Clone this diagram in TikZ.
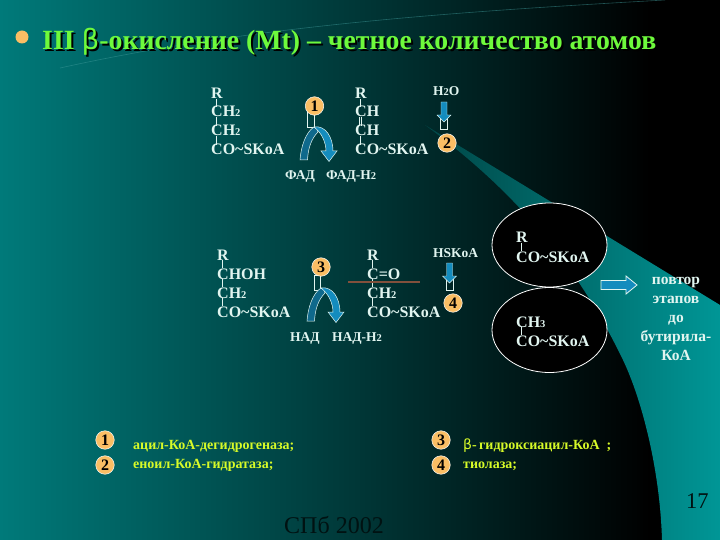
\documentclass[tikz,border=0pt]{standalone}
\usepackage{fontspec}
\setmainfont{Liberation Serif}
\usetikzlibrary{arrows.meta}
\definecolor{tealbg}{RGB}{0,122,122}
\definecolor{wedgeL}{RGB}{0,70,70}
\definecolor{wedgeR}{RGB}{0,150,150}
\definecolor{arrowblue}{RGB}{20,140,190}
\definecolor{arrowdark}{RGB}{15,105,140}
\definecolor{numfill}{RGB}{250,190,100}
\definecolor{titlegreen}{RGB}{110,250,60}
\definecolor{keyyellow}{RGB}{215,250,40}
\definecolor{chemwhite}{RGB}{225,245,240}
\definecolor{cutbrown}{RGB}{130,80,60}
\tikzset{
  x=1pt,y=-1pt,
  chem/.style={font=\bfseries\fontsize{16}{18}\selectfont,text=chemwhite,anchor=base west,inner sep=0pt},
  lab/.style={font=\bfseries\fontsize{13.5}{15}\selectfont,text=chemwhite,anchor=base west,inner sep=0pt},
  keytext/.style={font=\bfseries\fontsize{14}{16}\selectfont,text=keyyellow,anchor=base west,inner sep=0pt},
  numdot/.style={circle,fill=numfill,draw=white,line width=0.5pt,minimum size=18.5pt,inner sep=0pt,font=\bfseries\fontsize{16}{16}\selectfont,text=black},
  bond/.style={draw=chemwhite,line width=0.6pt},
  blackell/.style={draw=white,fill=black,line width=0.8pt},
  hollow/.style={draw=chemwhite,line width=0.8pt},
  titletext/.style={font=\bfseries\fontsize{27.8}{30}\selectfont,anchor=base west,inner sep=0pt},
}
\newcommand{\subs}[1]{{\fontsize{10.5}{10}\selectfont #1}}
\newcommand{\betachar}{{\fontspec{DejaVu Sans}\mdseries β}}
\newcommand{\curvedpair}[2]{%
\begin{scope}[shift={(#1,#2)}]
\fill[arrowdark,draw=chemwhite,line width=0.5pt] (0,0) -- (7.5,0) .. controls (8,-11) and (11,-21) .. (18,-28) .. controls (18,-31) and (16,-33) .. (14,-33) .. controls (6,-28) and (1,-14) .. (0,0) -- cycle;
\fill[arrowblue,draw=chemwhite,line width=0.5pt] (14,-33) .. controls (26,-35) and (33,-22) .. (33,-9) -- (37,-9) -- (29,1.500) -- (21,-9) -- (26,-9) .. controls (26,-17) and (22,-27) .. (14,-33) -- cycle;
\end{scope}}
\newcommand{\smalldown}[2]{%
\begin{scope}[shift={(#1,#2)}]
\draw[hollow] (-3.5,13) rectangle (3.5,27);
\fill[arrowblue,draw=chemwhite,line width=0.4pt] (-3,0) -- (3,0) -- (3,13) -- (7,13) -- (0,20) -- (-7,13) -- (-3,13) -- cycle;
\end{scope}}
\begin{document}
\begin{tikzpicture}
\useasboundingbox (0,0) rectangle (720,540);
% background
\fill[black] (0,0) rectangle (720,540);
\shade[left color=tealbg,right color=black] (0,0) rectangle (650,540);
% wedge
\shade[left color=wedgeL,right color=wedgeR] (425,125) -- (720,305) -- (720,540) -- (662,540) .. controls (660,470) and (642,400) .. (623,360) .. controls (570,250) and (500,180) .. (425,125) -- cycle;
% top arc
\draw[tealbg!75!white,line width=0.6pt,opacity=.5] (60,68) .. controls (250,26) and (450,12) .. (665,0);
% title
\fill[numfill] (22,37) circle (6.5);
\node[titletext,text=black] at (44,52) {III \betachar-окисление (Mt) – четное количество атомов};
\node[titletext,text=titlegreen] (title) at (42,50) {III \betachar-окисление (Mt) – четное количество атомов};
% group 1
\node[chem] (a1) at (211,99) {R};
\node[chem] (a2) at (211,117) {CH\subs{2}};
\node[chem] (a3) at (211,136) {CH\subs{2}};
\node[chem] (a4) at (211,155) {CO\textasciitilde SKoA};
\draw[bond] (216,99) -- (216,107) (216,117) -- (216,126) (216,136) -- (216,145);
\node[chem] (b1) at (355,99) {R};
\node[chem] (b2) at (355,117) {CH};
\node[chem] (b3) at (355,136) {CH};
\node[chem] (b4) at (355,155) {CO\textasciitilde SKoA};
\draw[bond] (360,99) -- (360,107) (359,117) -- (359,126) (361,117) -- (361,126) (360,136) -- (360,145);
% group 2
\node[chem] (c1) at (217,260) {R};
\node[chem] (c2) at (217,279) {CHOH};
\node[chem] (c3) at (217,298) {CH\subs{2}};
\node[chem] (c4) at (217,317) {CO\textasciitilde SKoA};
\draw[bond] (222,260) -- (222,268) (222,279) -- (222,287) (222,298) -- (222,306);
\node[chem] (d1) at (367,260) {R};
\node[chem] (d2) at (367,279) {C=O};
\node[chem] (d3) at (367,298) {CH\subs{2}};
\node[chem] (d4) at (367,317) {CO\textasciitilde SKoA};
\draw[bond] (372,260) -- (372,268) (372,279) -- (372,287) (372,298) -- (372,306);
\coordinate (cutL) at (348,282); \coordinate (cutR) at (420,282);
\draw[draw=cutbrown,line width=1.1pt] (cutL) -- (cutR);
% curved arrows
\draw[hollow] (307.500,110) rectangle (314,127);
\curvedpair{300}{160}
\node[numdot] (n1) at (314.500,106) {1};
\draw[hollow] (314,275) rectangle (320,290);
\curvedpair{307}{321}
\node[numdot] (n3) at (321,267) {3};
% small arrows
\smalldown{444}{102}
\smalldown{449.500}{263}
\node[numdot] (n2) at (447,143) {2};
\node[numdot] (n4) at (453,303) {4};
\node[lab] (w) at (433,96) {H\subs{2}O};
\node[lab] (hs) at (433,258) {HSKoA};
\node[lab] (f1) at (285,180) {ФАД};
\node[lab] (f2) at (326,180) {ФАД-Н\subs{2}};
\node[lab] (n1l) at (290,341) {НАД};
\node[lab] (n2l) at (332,341) {НАД-Н\subs{2}};
% ellipses
\draw[blackell] (549.500,245) ellipse (57.500 and 42);
\draw[blackell] (549.500,330) ellipse (57.500 and 42.500);
\node[chem] (e1) at (516,243) {R};
\node[chem] (e2) at (516,262) {CO\textasciitilde SKoA};
\node[chem] (e3) at (516,327) {CH\subs{3}};
\node[chem] (e4) at (516,346) {CO\textasciitilde SKoA};
\draw[bond] (521,243) -- (521,251) (521,327) -- (521,335);
% right arrow
\fill[arrowblue,draw=chemwhite,line width=0.8pt] (601,280.500) -- (626,280.500) -- (626,276) -- (637,285) -- (626,294) -- (626,289.500) -- (601,289.500) -- cycle;
\node[font=\bfseries\fontsize{15.500}{19}\selectfont,text=chemwhite,align=center,inner sep=0pt] (rep) at (676,319) {повтор\\этапов\\до\\бутирила-\\КоА};
% key
\node[numdot] (k1) at (105,440) {1};
\node[numdot] (k2) at (105,465) {2};
\node[numdot] (k3) at (441,440) {3};
\node[numdot] (k4) at (441,465) {4};
\node[keytext] (t1) at (133,449) {ацил-КоА-дегидрогеназа;};
\node[keytext] (t2) at (133,468) {еноил-КоА-гидратаза;};
\node[keytext] (t3) at (463,449) {\betachar-\,гидроксиацил-КоА\ \ ;};
\node[keytext] (t4) at (463,468) {тиолаза;};
% footer
\node[font=\fontsize{24}{26}\selectfont,text=black!85!tealbg,anchor=base west,inner sep=0pt] (spb) at (284,533) {СПб 2002};
\node[font=\fontsize{22.500}{24}\selectfont,text=black!85!tealbg,anchor=base west,inner sep=0pt] (pg) at (686,508) {17};
\end{tikzpicture}
\end{document}
